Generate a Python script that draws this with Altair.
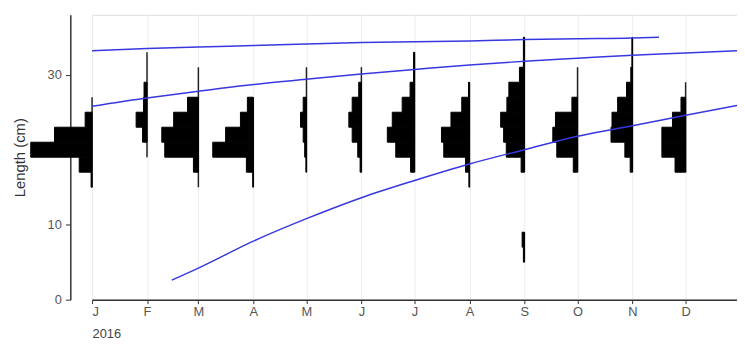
import altair as alt
import pandas as pd

# ---- data ----
months = ["2016-01-01", "2016-02-01", "2016-03-01", "2016-04-01", "2016-05-01", "2016-06-01",
          "2016-07-01", "2016-08-01", "2016-09-01", "2016-10-01", "2016-11-01", "2016-12-01"]

# lower edges of 2-cm length classes
bin_lo = [5, 7, 9, 11, 13, 15, 17, 19, 21, 23, 25, 27, 29, 31, 33]
bin_width = 2

# relative frequencies per length class, one list per month
freq_jan = [0, 0, 0, 0, 0, 1, 13, 62, 38, 7, 0, 0, 0, 0, 0]
freq_feb = [0, 0, 0, 0, 0, 0, 0, 0, 4.5, 11, 3.5, 3, 0, 0, 0]
freq_mar = [0, 0, 0, 0, 0, 0, 5, 34, 37, 25, 11, 0, 0, 0, 0]
freq_apr = [0, 0, 0, 0, 0, 0.5, 7, 41, 28, 13, 6, 0, 0, 0, 0]
freq_may = [0, 0, 0, 0, 0, 0, 0.5, 1.8, 3.3, 6, 3.3, 0, 0, 0, 0]
freq_jun = [0, 0, 0, 0, 0, 0, 1.3, 3.7, 9.3, 12.7, 9.3, 2.7, 0, 0, 0]
freq_jul = [0, 0, 0, 0, 0, 0, 4, 19, 27.5, 22.5, 12.5, 4.5, 1, 1, 0]
freq_aug = [0, 0, 0, 0, 0, 0.5, 4, 26, 28.3, 18.7, 7.8, 1, 0, 0, 0]
freq_sep = [1, 2.3, 0, 0, 0, 0, 3.3, 18.3, 21, 24, 17.7, 15.7, 5, 1, 1]
freq_oct = [0, 0, 0, 0, 0, 0, 4.3, 21, 25, 22.3, 5.7, 0, 0, 0, 0]
freq_nov = [0, 0, 0, 0, 0, 0, 2.3, 7.7, 21.7, 20.7, 15, 6, 1.7, 0.5, 0.5]
freq_dec = [0, 0, 0, 0, 0, 0, 10.7, 24, 24, 13.3, 4.7, 0, 0, 0, 0]
freqs = [freq_jan, freq_feb, freq_mar, freq_apr, freq_may, freq_jun,
         freq_jul, freq_aug, freq_sep, freq_oct, freq_nov, freq_dec]

# sampled length range (baseline) per month
range_month = months + ["2016-09-01"]
range_lo = [15, 19, 15, 15, 17, 17, 17, 15, 17, 17, 17, 17, 5]
range_hi = [27, 33, 31, 27, 31, 31, 33, 29, 35, 31, 35, 29, 9]

# growth curves (cohorts)
curve1_dates = ["2016-01-01", "2016-02-01", "2016-03-01", "2016-04-01", "2016-05-01", "2016-06-01",
                "2016-07-01", "2016-08-01", "2016-09-01", "2016-10-01", "2016-11-01", "2016-11-16"]
curve1_len = [33.2, 33.5, 33.7, 33.9, 34.1, 34.3, 34.4, 34.5, 34.7, 34.8, 34.9, 35.0]
curve2_dates = ["2016-01-01", "2016-02-01", "2016-03-01", "2016-04-01", "2016-05-01", "2016-06-01",
                "2016-07-01", "2016-08-01", "2016-09-01", "2016-10-01", "2016-11-01", "2016-12-01",
                "2016-12-30"]
curve2_len = [25.8, 26.9, 27.8, 28.7, 29.4, 30.1, 30.7, 31.3, 31.8, 32.2, 32.6, 32.9, 33.2]
curve3_dates = ["2016-02-15", "2016-03-01", "2016-04-01", "2016-05-01", "2016-06-01", "2016-07-01",
                "2016-08-01", "2016-09-01", "2016-10-01", "2016-11-01", "2016-12-01", "2016-12-30"]
curve3_len = [2.6, 4.2, 7.8, 10.8, 13.6, 15.9, 18.1, 20.0, 21.8, 23.2, 24.6, 25.9]

month_ticks = list(range(1, 13))

# ---- tables ----
hist_rows = []
for m, fl in zip(months, freqs):
    for lo, f in zip(bin_lo, fl):
        if f > 0:
            hist_rows.append({"month": m, "blo": lo, "bhi": lo + bin_width, "freq": f})
hist = pd.DataFrame(hist_rows)

ranges = pd.DataFrame({"month": range_month, "lo": range_lo, "hi": range_hi})

curves = pd.concat([
    pd.DataFrame({"date": curve1_dates, "length": curve1_len, "cohort": "c1"}),
    pd.DataFrame({"date": curve2_dates, "length": curve2_len, "cohort": "c2"}),
    pd.DataFrame({"date": curve3_dates, "length": curve3_len, "cohort": "c3"}),
])

# ---- styling ----
FONT = "Liberation Sans"
MS_PER_FREQ = 48240000  # one frequency unit drawn as ~1px of time axis

x_scale = alt.Scale(type="utc",
                    domain=[alt.DateTime(year=2016, month=1, date=1, utc=True),
                            alt.DateTime(year=2016, month=12, date=30, utc=True)])
x_axis = alt.Axis(
    values=[alt.DateTime(year=2016, month=m, date=1, utc=True) for m in month_ticks],
    labelExpr="substring(utcFormat(datum.value, '%b'), 0, 1)",
    title="2016", titleAnchor="start", titleAlign="left", titleFontWeight="normal",
    titleFontSize=13, titleColor="#444", titlePadding=9,
    labelFontSize=13, labelColor="#555", labelPadding=2, labelFont=FONT, titleFont=FONT,
    tickSize=4, tickColor="#333", domainColor="#333", domainWidth=1.5,
    grid=True, gridColor="#ececec", gridWidth=1, zindex=0,
)
y_scale = alt.Scale(domain=[0, 38], nice=False)
y_axis = alt.Axis(
    values=[0, 10, 20, 30], offset=22, grid=False,
    title="Length (cm)", titleFontSize=15, titleFontWeight="normal", titleColor="#333",
    titleFont=FONT, titlePadding=20,
    labelFontSize=13, labelColor="#555", labelFont=FONT, labelPadding=4,
    tickSize=5, tickColor="#333", domainColor="#333", domainWidth=1.5, zindex=0,
)

base_lines = alt.Chart(ranges).mark_rule(color="#222", strokeWidth=1.5).encode(
    x=alt.X("month:T", scale=x_scale, axis=x_axis),
    y=alt.Y("lo:Q", scale=y_scale, axis=y_axis),
    y2="hi:Q",
)

bars = alt.Chart(hist).transform_calculate(
    left=f"toDate(datum.month) - datum.freq * {MS_PER_FREQ}"
).mark_rect(fill="black", stroke="black", strokeWidth=1, strokeOpacity=1, fillOpacity=1).encode(
    x=alt.X("left:T", scale=x_scale, axis=x_axis),
    x2="month:T",
    y=alt.Y("blo:Q", scale=y_scale, axis=y_axis),
    y2="bhi:Q",
)

lines = alt.Chart(curves).mark_line(color="#3838e0", strokeWidth=1.5, interpolate="monotone").encode(
    x=alt.X("date:T", scale=x_scale, axis=x_axis),
    y=alt.Y("length:Q", scale=y_scale, axis=y_axis),
    detail="cohort:N",
)

chart = alt.layer(base_lines, bars, lines).properties(
    width=652, height=288,
    padding={"left": 85, "top": 5, "right": 0, "bottom": 44},
    autosize=alt.AutoSizeParams(type="none"),
).configure_view(stroke=None).configure(background="white")

chart.save("out.html", embed_options={"renderer": "svg", "actions": False})
